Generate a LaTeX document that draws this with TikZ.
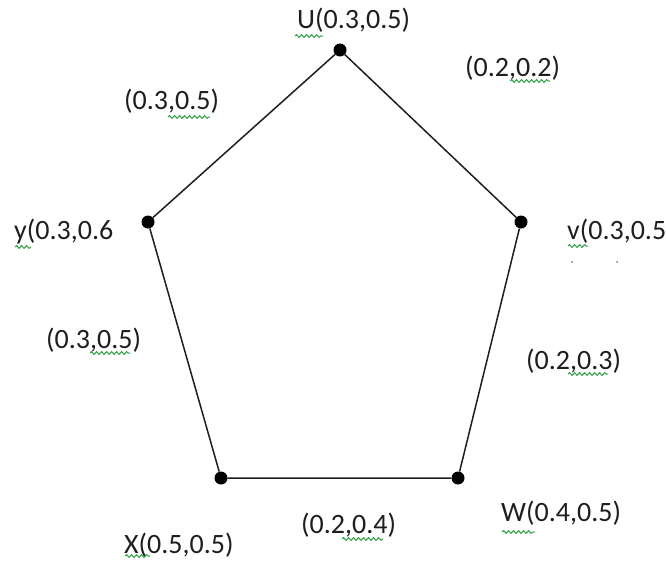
\documentclass[tikz,border=0pt]{standalone}
\usepackage{fontspec}
\setmainfont{Carlito}
\usepackage{tikz}
\usetikzlibrary{decorations.pathmorphing}
\definecolor{Ink}{HTML}{1E1E1E}
\definecolor{Squig}{HTML}{2EA043}
\definecolor{Speck}{HTML}{B06A2A}

\begin{document}
\begin{tikzpicture}[x=1pt,y=-1pt,
    vertex/.style={circle,fill=black,inner sep=0pt,minimum size=13pt},
    side/.style={Ink,line width=1.5pt},
    lbl/.style={anchor=west,inner sep=0pt,text=Ink,font=\fontsize{28}{30}\selectfont},
    squiggle/.style={Squig,line width=1pt,decorate,
      decoration={snake,segment length=5pt,amplitude=1.4pt}}]
  \useasboundingbox (0,0) rectangle (666,562);
  % corners
  \node[vertex] (U) at (340,50) {};
  \node[vertex] (V) at (521,222) {};
  \node[vertex] (W) at (458,478) {};
  \node[vertex] (X) at (221,478) {};
  \node[vertex] (Y) at (148,222) {};
  \draw[side] (U) -- (V) -- (W) -- (X) -- (Y) -- (U);
  % vertex labels
  \node[lbl] (labU) at (297,20) {U(0.3,0.5)};
  \node[lbl] (labV) at (567,231) {v(0.3,0.5};
  \node[lbl] (labW) at (501,513) {W(0.4,0.5)};
  \node[lbl] (labX) at (124,545) {X(0.5,0.5)};
  \node[lbl] (labY) at (14,232) {y(0.3,0.6};
  % edge labels
  \node[lbl] (labUV) at (465,68) {(0.2,0.2)};
  \node[lbl] (labVW) at (526,361) {(0.2,0.3)};
  \node[lbl] (labWX) at (301,525) {(0.2,0.4)};
  \node[lbl] (labXY) at (46,340) {(0.3,0.5)};
  \node[lbl] (labYU) at (124,101) {(0.3,0.5)};
  % spell-check marks
  \draw[squiggle] (295,36) -- (323,36);
  \draw[squiggle] (510,81) -- (550,81);
  \draw[squiggle] (168,117) -- (210,117);
  \draw[squiggle] (15,247) -- (31,247);
  \draw[squiggle] (568,246) -- (588,246);
  \draw[squiggle] (90,353) -- (130,353);
  \draw[squiggle] (568,374) -- (608,374);
  \draw[squiggle] (342,539) -- (383,539);
  \draw[squiggle] (502,532) -- (535,532);
  \draw[squiggle] (125,556) -- (150,556);
  \fill[Speck] (572,262) circle (1pt);
  \fill[Speck] (617,262) circle (1pt);
\end{tikzpicture}
\end{document}
